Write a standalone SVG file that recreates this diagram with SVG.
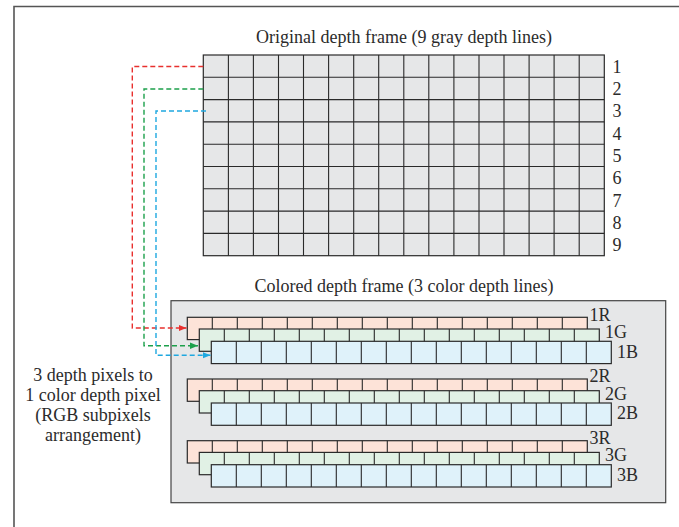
<svg xmlns="http://www.w3.org/2000/svg" xmlns:xlink="http://www.w3.org/1999/xlink" width="679" height="527" viewBox="0 0 679 527">
<style>
text{font-family:"Liberation Serif","Times New Roman",serif;font-size:18px;fill:#2b2b2b}
.mid{text-anchor:middle}
.grid{fill:none;stroke:#2a2a2a;stroke-width:1.1}
.cellbg{fill:#e6e7e8;stroke:#2a2a2a;stroke-width:1.2}
.r{fill:#fde3d8;stroke:#2a2a2a;stroke-width:1.2}
.g{fill:#e1f1e5;stroke:#2a2a2a;stroke-width:1.2}
.b{fill:#dff2fa;stroke:#2a2a2a;stroke-width:1.2}
.div{fill:none;stroke:#2a2a2a;stroke-width:1.1}
.conn{fill:none;stroke-width:1.4;stroke-dasharray:5 3}
</style>
<defs>
<path id="divs" d="M25,0v22.3M50,0v22.3M75,0v22.3M100,0v22.3M125,0v22.3M150,0v22.3M175,0v22.3M200,0v22.3M225,0v22.3M250,0v22.3M275,0v22.3M300,0v22.3M325,0v22.3M350,0v22.3M375,0v22.3"/>
<marker id="ar" markerUnits="userSpaceOnUse" markerWidth="9" markerHeight="8" refX="8" refY="4" orient="auto"><path d="M0,0.8L8,4L0,7.2z" fill="#e8302e"/></marker>
<marker id="ag" markerUnits="userSpaceOnUse" markerWidth="9" markerHeight="8" refX="8" refY="4" orient="auto"><path d="M0,0.8L8,4L0,7.2z" fill="#1ca04b"/></marker>
<marker id="ab" markerUnits="userSpaceOnUse" markerWidth="9" markerHeight="8" refX="8" refY="4" orient="auto"><path d="M0,0.8L8,4L0,7.2z" fill="#1fa8e0"/></marker>
</defs>

<path d="M14,527V6.5H679" fill="none" stroke="#555" stroke-width="1.6"/>

<g id="original-frame">
<text class="mid" x="404" y="43">Original depth frame (9 gray depth lines)</text>
<rect class="cellbg" x="203.3" y="55" width="401" height="200.7"/>
<path class="grid" d="M228.4,55V255.7M253.4,55V255.7M278.5,55V255.7M303.5,55V255.7M328.6,55V255.7M353.7,55V255.7M378.7,55V255.7M403.8,55V255.7M428.8,55V255.7M453.9,55V255.7M479,55V255.7M504,55V255.7M529.1,55V255.7M554.1,55V255.7M579.2,55V255.7M203.3,77.3H604.3M203.3,99.6H604.3M203.3,121.9H604.3M203.3,144.2H604.3M203.3,166.5H604.3M203.3,188.8H604.3M203.3,211.1H604.3M203.3,233.4H604.3"/>
<text x="612.5" y="72.7">1</text>
<text x="612.5" y="95">2</text>
<text x="612.5" y="117.3">3</text>
<text x="612.5" y="139.6">4</text>
<text x="612.5" y="161.9">5</text>
<text x="612.5" y="184.2">6</text>
<text x="612.5" y="206.5">7</text>
<text x="612.5" y="228.8">8</text>
<text x="612.5" y="251.1">9</text>
</g>

<g id="colored-frame">
<rect x="171" y="300.7" width="494.7" height="202" fill="#e6e7e8" stroke="#444" stroke-width="1.2"/>
<text class="mid" x="404" y="291.5">Colored depth frame (3 color depth lines)</text>
</g>

<g id="line-1">
<rect class="r" x="187.3" y="317.3" width="400" height="22.3"/><use href="#divs" xlink:href="#divs" class="div" x="187.3" y="317.3"/>
<rect class="g" x="199.3" y="329" width="400" height="22.3"/><use href="#divs" xlink:href="#divs" class="div" x="199.3" y="329"/>
<rect class="b" x="211.3" y="341.3" width="400" height="22.3"/><use href="#divs" xlink:href="#divs" class="div" x="211.3" y="341.3"/>
<text x="589.5" y="320.7">1R</text>
<text x="605" y="338">1G</text>
<text x="617" y="357.5">1B</text>
</g>

<g id="line-2">
<rect class="r" x="187.3" y="379" width="400" height="22.3"/><use href="#divs" xlink:href="#divs" class="div" x="187.3" y="379"/>
<rect class="g" x="199.3" y="390.7" width="400" height="22.3"/><use href="#divs" xlink:href="#divs" class="div" x="199.3" y="390.7"/>
<rect class="b" x="211.3" y="403" width="400" height="22.3"/><use href="#divs" xlink:href="#divs" class="div" x="211.3" y="403"/>
<text x="589.5" y="382.4">2R</text>
<text x="605" y="399.7">2G</text>
<text x="617" y="419.2">2B</text>
</g>

<g id="line-3">
<rect class="r" x="187.3" y="440.7" width="400" height="22.3"/><use href="#divs" xlink:href="#divs" class="div" x="187.3" y="440.7"/>
<rect class="g" x="199.3" y="452.4" width="400" height="22.3"/><use href="#divs" xlink:href="#divs" class="div" x="199.3" y="452.4"/>
<rect class="b" x="211.3" y="464.7" width="400" height="22.3"/><use href="#divs" xlink:href="#divs" class="div" x="211.3" y="464.7"/>
<text x="589.5" y="444.1">3R</text>
<text x="605" y="461.4">3G</text>
<text x="617" y="480.9">3B</text>
</g>

<g id="caption">
<text class="mid" x="93" y="380.5">3 depth pixels to</text>
<text class="mid" x="93" y="400.5">1 color depth pixel</text>
<text class="mid" x="93" y="420.5">(RGB subpixels</text>
<text class="mid" x="93" y="440.5">arrangement)</text>
</g>

<g id="connectors">
<path class="conn" stroke="#e8302e" d="M203.3,66.5H132.3V328H186.5" marker-end="url(#ar)"/>
<path class="conn" stroke="#1ca04b" d="M203.3,89H144V345.7H198" marker-end="url(#ag)"/>
<path class="conn" stroke="#1fa8e0" d="M206,111H156V355.3H210.5" marker-end="url(#ab)"/>
</g>
</svg>
